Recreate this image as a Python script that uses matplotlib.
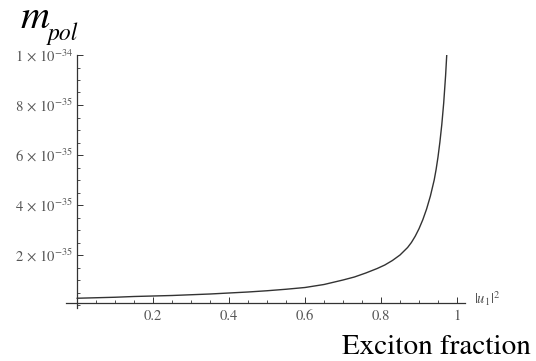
import matplotlib
matplotlib.use("Agg")
import matplotlib.pyplot as plt
from matplotlib.ticker import FixedLocator, MultipleLocator

plt.rcParams["mathtext.fontset"] = "stix"
plt.rcParams["font.family"] = ["STIXGeneral", "Liberation Serif", "DejaVu Serif"]

# Exciton fraction |u1|^2 and polariton mass (kg)
fraction = [0.00, 0.05, 0.10, 0.15, 0.20, 0.25, 0.30, 0.35, 0.40, 0.45,
            0.50, 0.55, 0.60, 0.65, 0.70, 0.73, 0.76, 0.79, 0.81, 0.83,
            0.85, 0.87, 0.88, 0.89, 0.90, 0.91, 0.92, 0.93, 0.94, 0.945,
            0.95, 0.955, 0.96, 0.965, 0.97, 0.973]
mass_e35 = [0.27, 0.29, 0.31, 0.34, 0.36, 0.38, 0.41, 0.44, 0.48, 0.52,
            0.57, 0.63, 0.70, 0.82, 1.00, 1.12, 1.28, 1.46, 1.60, 1.78,
            2.00, 2.30, 2.50, 2.75, 3.05, 3.41, 3.84, 4.36, 5.00, 5.42,
            5.92, 6.52, 7.22, 8.08, 9.18, 10.00]
mass = [m * 1e-35 for m in mass_e35]

xtick_values = [0.2, 0.4, 0.6, 0.8, 1.0]
xtick_labels = ["0.2", "0.4", "0.6", "0.8", "1"]
ytick_values = [2e-35, 4e-35, 6e-35, 8e-35, 1e-34]
ytick_labels = [r"$2\,\times\,10^{-35}$", r"$4\,\times\,10^{-35}$",
                r"$6\,\times\,10^{-35}$", r"$8\,\times\,10^{-35}$",
                r"$1\,\times\,10^{-34}$"]

W, H = 536, 361
fig = plt.figure(figsize=(W / 100, H / 100), dpi=100)

# axes box in pixels: x=0 at 77 px (380 px per unit), y=0 at 305 px (25 px per 1e-35)
xlim = (-0.03, 1.02)
ylim = (-0.1e-35, 1.0e-34)
left_px = 77 + xlim[0] * 380
right_px = 77 + xlim[1] * 380
bottom_px = 305 - ylim[0] / 1e-35 * 25
top_px = 305 - ylim[1] / 1e-35 * 25
ax = fig.add_axes([left_px / W, 1 - bottom_px / H,
                   (right_px - left_px) / W, (bottom_px - top_px) / H])

ax.plot(fraction, mass, color="#333333", lw=1.0, solid_capstyle="round")
ax.set_xlim(*xlim)
ax.set_ylim(*ylim)

for side in ("top", "right"):
    ax.spines[side].set_visible(False)
ax.spines["left"].set_position(("data", 0.0))
ax.spines["bottom"].set_position(("data", 0.08e-35))
for side in ("left", "bottom"):
    ax.spines[side].set_color("#333333")
    ax.spines[side].set_linewidth(0.9)

ax.xaxis.set_major_locator(FixedLocator(xtick_values))
ax.set_xticklabels(xtick_labels)
ax.xaxis.set_minor_locator(MultipleLocator(0.05))
ax.yaxis.set_major_locator(FixedLocator(ytick_values))
ax.set_yticklabels(ytick_labels)
ax.yaxis.set_minor_locator(MultipleLocator(0.5e-35))

ax.tick_params(which="major", direction="in", length=4, width=0.7,
               color="#333333", labelcolor="#555555")
ax.tick_params(which="minor", direction="in", length=2, width=0.6,
               color="#333333")
ax.tick_params(axis="x", pad=5, labelsize=10.5)
ax.tick_params(axis="y", pad=3, labelsize=10.5)

# axis labels
fig.text(21 / W, 1 - 28 / H, "m", fontsize=29, style="italic",
         color="black", ha="left", va="baseline")
fig.text(48 / W, 1 - 40 / H, "pol", fontsize=17, style="italic",
         color="black", ha="left", va="baseline")
fig.text(474 / W, 1 - 304 / H, r"$|u_1|^2$", fontsize=10.5,
         color="#555555", ha="left", va="baseline")
fig.text(531 / W, 1 - 354 / H, "Exciton fraction", fontsize=21,
         color="black", ha="right", va="baseline")

fig.savefig("out.png", dpi=100, facecolor="white")
